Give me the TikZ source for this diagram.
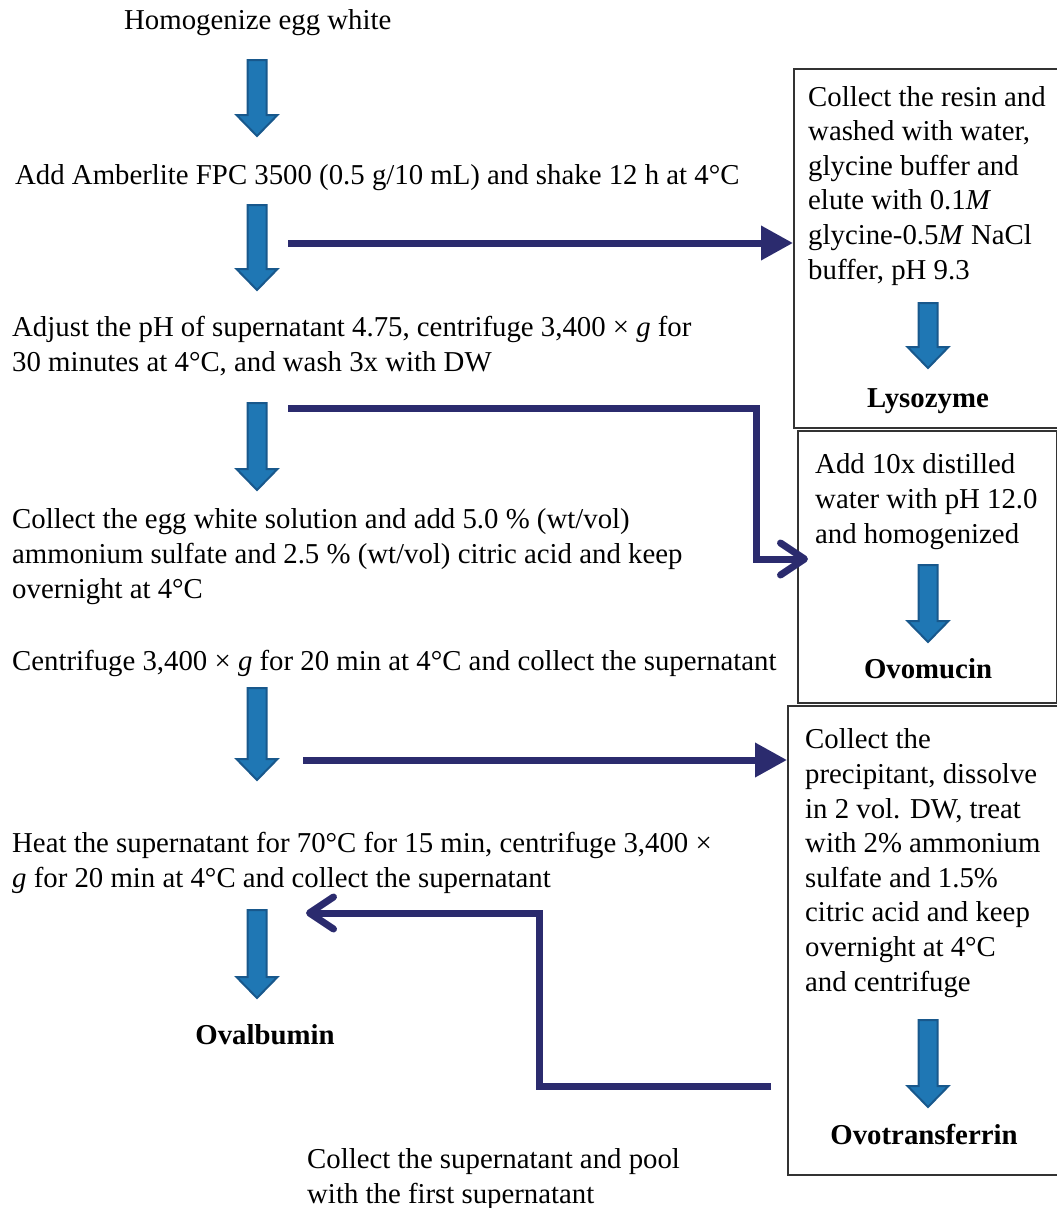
\documentclass[tikz,border=0pt]{standalone}
\usepackage{fontspec}
\setmainfont{Liberation Serif}
\usetikzlibrary{arrows.meta,positioning}

\definecolor{blkfill}{RGB}{31,119,180}
\definecolor{blkline}{RGB}{24,88,140}
\definecolor{navy}{RGB}{43,43,110}

\newcommand{\blkdown}[3]{%
  \draw[blkarrow] (#1-9.5,#2) -- (#1+9.5,#2) -- (#1+9.5,#3-21) -- (#1+20.5,#3-21)
    -- (#1,#3) -- (#1-20.5,#3-21) -- (#1-9.5,#3-21) -- cycle;}

\begin{document}
\begin{tikzpicture}[
    x=1pt, y=-1pt,
    every node/.style={font=\fontsize{28.8}{34.6}\selectfont, inner sep=0},
    steptext/.style={anchor=base west, align=left},% base = last line
    result/.style={anchor=base, font=\fontsize{28.8}{34.6}\selectfont\bfseries},
    panel/.style={draw=black!80, line width=2pt, anchor=north west},
    blkarrow/.style={fill=blkfill, draw=blkline, line width=2pt},
    link/.style={draw=navy, line width=7pt},
    filltip/.style={-{Triangle[length=32pt,width=33pt]}},
    barbtip/.style={-{Straight Barb[length=24pt,width=32pt,round]}}]
\useasboundingbox (0,0) rectangle (1057,1208);

% side panels
\node[panel, minimum width=266pt, minimum height=359pt] (lysobox) at (793,68) {};
\node[panel, minimum width=259pt, minimum height=272pt] (ovobox) at (797,430) {};
\node[panel, minimum width=275pt, minimum height=469pt] (ferrbox) at (787,705) {};

% main steps
\node[steptext] (homog) at (124,29) {Homogenize egg white};
\node[steptext] (amber) at (15,184) {Add Amberlite FPC 3500 (0.5 g/10 mL) and shake 12 h at 4°C};
\node[steptext] (adjust) at (12,371) {Adjust the pH of supernatant 4.75, centrifuge 3,400 × \textit{g} for\\30 minutes at 4°C, and wash 3x with DW};
\node[steptext] (eggsol) at (12,598) {Collect the egg white solution and add 5.0 \% (wt/vol)\\ammonium sulfate and 2.5 \% (wt/vol) citric acid and keep\\overnight at 4°C};
\node[steptext] (centri) at (12,670) {Centrifuge 3,400 × \textit{g} for 20 min at 4°C and collect the supernatant};
\node[steptext] (heat) at (12,887) {Heat the supernatant for 70°C for 15 min, centrifuge 3,400 ×\\\textit{g} for 20 min at 4°C and collect the supernatant};
\node[result] (ovalb) at (265,1044) {Ovalbumin};
\node[steptext] (pool) at (307,1203) {Collect the supernatant and pool\\with the first supernatant};

% panel contents
\node[steptext] (resin) at (808,279) {Collect the resin and\\washed with water,\\glycine buffer and\\elute with 0.1\textit{M}\\glycine-0.5\textit{M} NaCl\\buffer, pH 9.3};
\node[result] (lyso) at (928,407) {Lysozyme};
\node[steptext] (dilute) at (815,543) {Add 10x distilled\\water with pH 12.0\\and homogenized};
\node[result] (ovom) at (928,678) {Ovomucin};
\node[steptext] (precip) at (805,991) {Collect the\\precipitant, dissolve\\in 2 vol. DW, treat\\with 2\% ammonium\\sulfate and 1.5\%\\citric acid and keep\\overnight at 4°C\\and centrifuge};
\node[result] (ovot) at (924,1144) {Ovotransferrin};

% block arrows
\blkdown{257}{60}{136}
\blkdown{257}{205}{290}
\blkdown{257}{403}{490}
\blkdown{257}{688}{780}
\blkdown{257}{910}{998}
\blkdown{928}{303}{368}
\blkdown{928}{565}{642}
\blkdown{928}{1020}{1107}

% side connectors
\coordinate (resinout) at (288,243);
\draw[link, filltip] (resinout) -- (resinout -| lysobox.west);

\coordinate (mucinout) at (288,408);
\coordinate (mucinbend) at (756,408);
\coordinate (mucinin) at (808,559);
\draw[link, barbtip] (mucinout) -- (mucinbend) |- (mucinin);

\coordinate (ferrout) at (303,760);
\draw[link, filltip] (ferrout) -- (ferrout -| ferrbox.west);

\coordinate (poolout) at (771,1086);
\coordinate (poolbend) at (539,1086);
\coordinate (heatin) at (306,913);
\draw[link, barbtip] (poolout) -- (poolbend) |- (heatin);

\end{tikzpicture}
\end{document}
